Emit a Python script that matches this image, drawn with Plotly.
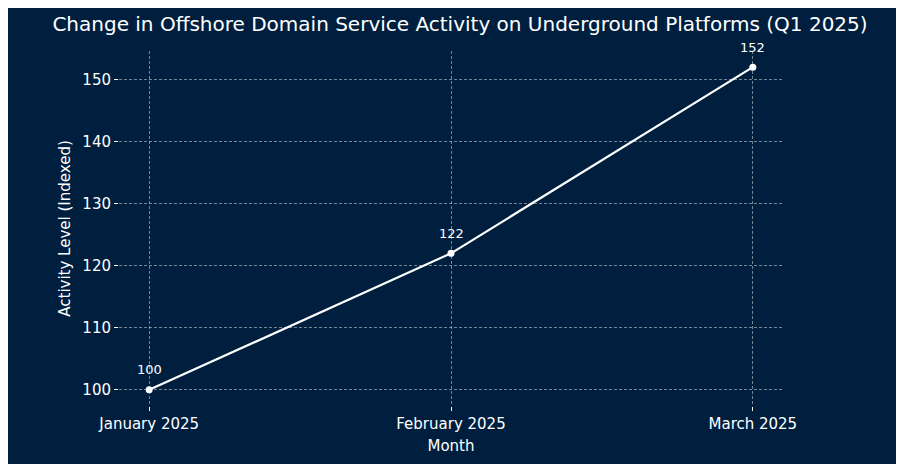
import plotly.graph_objects as go

months = ["January 2025", "February 2025", "March 2025"]
activity = [100, 122, 152]
labels = ["100", "122", "152"]

bg = "#001f3f"
fig = go.Figure()
fig.add_trace(go.Scatter(
    x=[0, 1, 2], y=activity, mode="lines+markers",
    line=dict(color="white", width=2.2), marker=dict(color="white", size=7),
    showlegend=False, cliponaxis=False))
for i, (v, t) in enumerate(zip(activity, labels)):
    fig.add_annotation(x=i, y=v, text=t, showarrow=False, yshift=20,
                       font=dict(color="white", size=13, family="DejaVu Sans"))
grid = dict(showgrid=True, gridcolor="rgba(255,255,255,0.45)", griddash="3px,2px", gridwidth=0.6,
            zeroline=False, showline=False, ticks="outside", tickcolor="white", ticklen=4,
            tickfont=dict(color="white", size=15, family="DejaVu Sans"))
fig.update_layout(
    width=904, height=464, paper_bgcolor=bg, plot_bgcolor=bg,
    margin=dict(l=111, r=129, t=43, b=66),
    title=dict(text="Change in Offshore Domain Service Activity on Underground Platforms (Q1 2025)",
               x=0.5, xanchor="center", y=0.965, yanchor="middle",
               font=dict(color="white", size=20, family="DejaVu Sans")),
    xaxis=dict(range=[-0.1, 2.1], tickvals=[0, 1, 2], ticktext=months,
               title=dict(text="Month", font=dict(color="white", size=15, family="DejaVu Sans"), standoff=8), **grid),
    yaxis=dict(range=[97.4, 154.6], tickvals=[100, 110, 120, 130, 140, 150],
               title=dict(text="Activity Level (Indexed)", font=dict(color="white", size=15, family="DejaVu Sans"), standoff=8), **grid),
)
fig.write_html("out.html")
